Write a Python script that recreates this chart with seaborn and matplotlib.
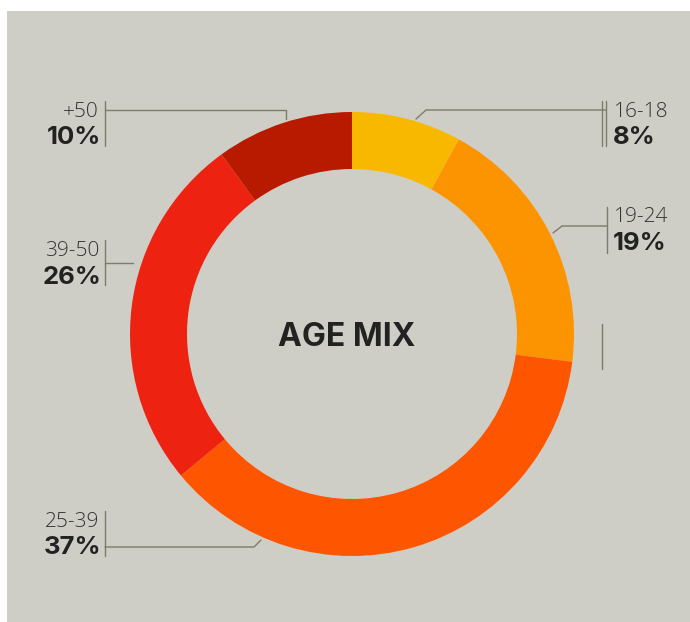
import matplotlib
matplotlib.use("Agg")
import matplotlib.pyplot as plt
import seaborn as sns
from matplotlib.patches import Rectangle

# data
age_groups = ["16-18", "19-24", "25-39", "39-50", "+50"]
shares = [8, 19, 37, 26, 10]
colors = ["#f8b800", "#fc9300", "#fe5500", "#ee2211", "#b81a00"]

title = "AGE MIX"
bg = "#cfcec6"
line_col = "#7d7c68"
text_col = "#222222"

sns.set_theme(style="white")
plt.rcParams["font.family"] = ["Inter", "DejaVu Sans"]
light_font = ["Open Sans", "DejaVu Sans"]

W, H = 690, 622
fig = plt.figure(figsize=(W / 100, H / 100), dpi=100, facecolor="white")
ax = fig.add_axes([0, 0, 1, 1])
ax.set_xlim(0, W)
ax.set_ylim(0, H)
ax.set_aspect("equal")
ax.axis("off")

# gray panel
ax.add_patch(Rectangle((7, 0), W - 7, H - 11, facecolor=bg, edgecolor="none", zorder=0))

cx, cy, r = 352, H - 334, 222
ax.pie(shares, colors=colors, startangle=90, counterclock=False,
       center=(cx, cy), radius=r, frame=True,
       wedgeprops=dict(width=57, edgecolor="none", linewidth=0))
ax.set_xlim(0, W)
ax.set_ylim(0, H)
ax.axis("off")

ax.text(cx - 5, cy - 3, title, ha="center", va="center", fontsize=23,
        fontweight="bold", color=text_col)


def Y(v):
    return H - v


lw = 1.0
# leader lines (pixel coords from top)
leaders = {
    "+50": [(105, 110), (286, 110), (286, 119)],
    "39-50": [(105, 263), (133, 263)],
    "25-39": [(105, 547), (254, 547), (261, 540)],
    "16-18": [(606, 110), (426, 110), (416, 119)],
    "19-24": [(607, 226), (562, 226), (553, 233)],
}
for pts in leaders.values():
    ax.plot([p[0] for p in pts], [Y(p[1]) for p in pts], color=line_col, lw=lw)

# vertical bars beside labels
bars = [(105, 101, 146), (105, 240, 285), (105, 511, 556),
        (602, 101, 146), (606, 101, 146), (607, 207, 253), (602, 324, 369)]
for x, y0, y1 in bars:
    ax.plot([x, x], [Y(y0), Y(y1)], color=line_col, lw=lw)

# labels
label_pos = {
    "+50": (99, 112, "right"),
    "39-50": (99, 251, "right"),
    "25-39": (99, 522, "right"),
    "16-18": (614, 112, "left"),
    "19-24": (614, 217, "left"),
}
for grp, val in zip(age_groups, shares):
    x, y, ha = label_pos[grp]
    ax.text(x, Y(y), grp, ha=ha, va="center", fontsize=15, fontweight="light",
            family=light_font, color="#333333")
    ax.text(x + (2 if ha == "right" else -1), Y(y + 26), f"{val}%", ha=ha, va="center",
            fontsize=18.5, fontweight="bold", color=text_col)

fig.savefig("out.png", dpi=100, facecolor="white")
